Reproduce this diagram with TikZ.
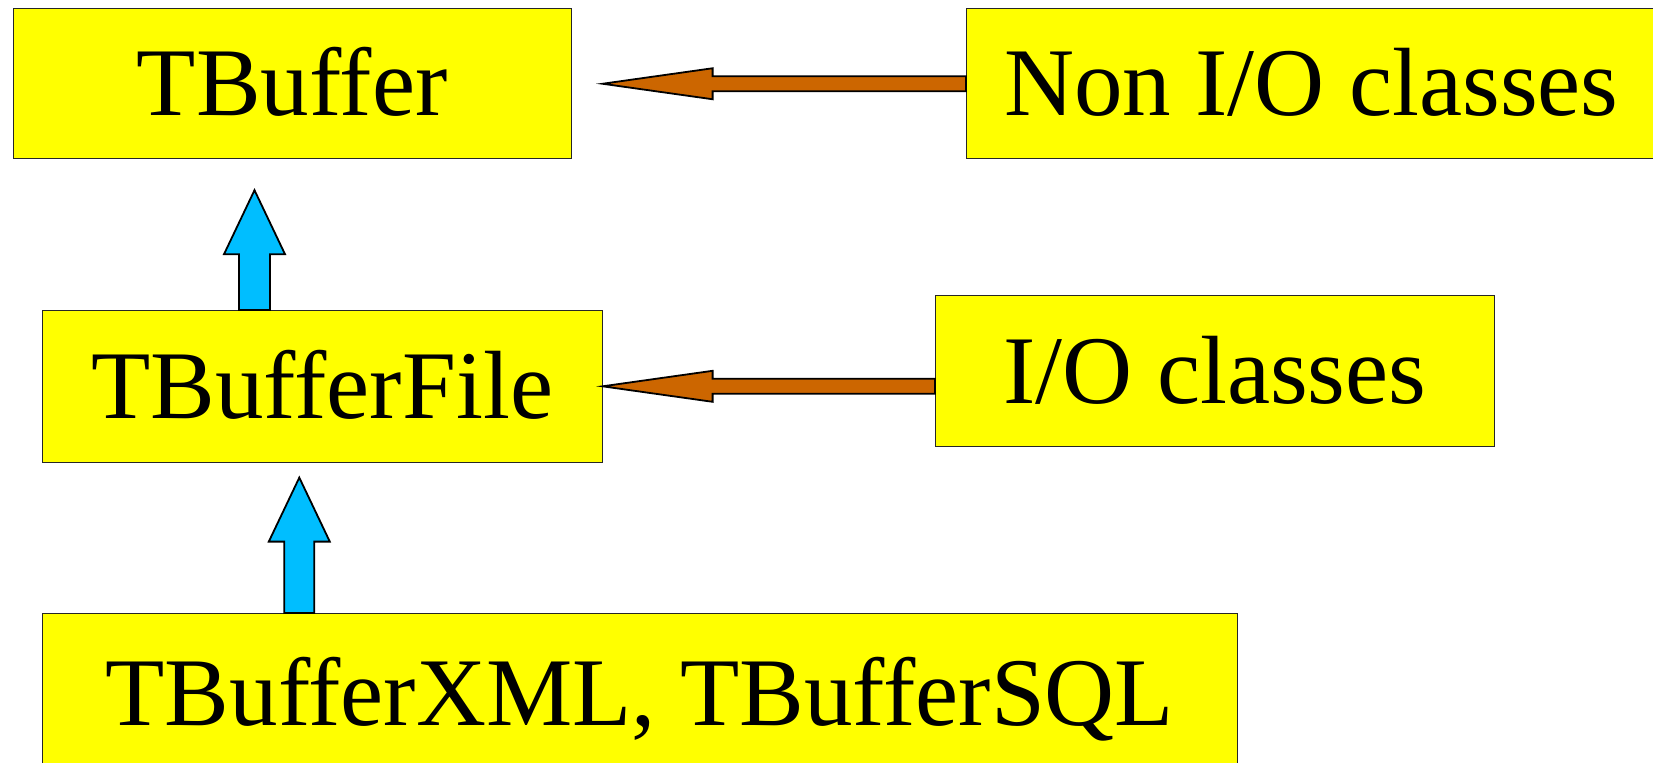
\documentclass[tikz,border=0pt]{standalone}
\usepackage{fontspec}
\setmainfont{Liberation Serif}
\usetikzlibrary{positioning,calc}

\definecolor{boxyellow}{RGB}{255,255,0}
\definecolor{useorange}{RGB}{204,102,0}
\definecolor{inhblue}{RGB}{0,190,255}

\tikzset{
  classbox/.style={draw=black!85, line width=0.45pt, fill=boxyellow, anchor=north west,
    inner sep=0pt, text height=32.1pt, text depth=0pt,
    font=\fontsize{48.5}{58}\selectfont},
  usearrow/.style={draw=black, line width=0.9pt, fill=useorange, line join=miter},
  inharrow/.style={draw=black, line width=0.9pt, fill=inhblue, line join=miter}
}

\begin{document}
\begin{tikzpicture}[x=0.5pt,y=-0.5pt]
\useasboundingbox (0,0) rectangle (1653,762);
\clip (0,0) rectangle (1653,762);

% class boxes
\node[classbox, minimum width=279.2pt, minimum height=75pt] (tbuffer) at (12.6,8.3) {TBuffer};
\node[classbox, minimum width=345pt, minimum height=75pt] (nonio) at (966,8.3) {Non I/O classes};
\node[classbox, minimum width=279.85pt, minimum height=75.85pt] (tbufferfile) at (42,310) {TBufferFile};
\node[classbox, minimum width=279.5pt, minimum height=75.5pt] (io) at (935,295) {I/O classes};
\node[classbox, minimum width=597.15pt, minimum height=80pt] (derived) at (42.3,613) {TBufferXML, TBufferSQL};

% Non I/O classes use TBuffer
\coordinate (tip1) at ($(tbuffer.east)+(30.7,0)$);
\draw[usearrow] (tip1) -- ++(110,-15.5) -- ++(0,8) -- ($(nonio.west)+(0,-7.5)$)
  -- ($(nonio.west)+(0,7.5)$) -- ($(tip1)+(110,7.5)$) -- ++(0,8) -- cycle;

% I/O classes use TBufferFile
\coordinate (tip2) at (tbufferfile.east);
\draw[usearrow] (tip2) -- ++(110,-15.5) -- ++(0,8) -- ($(io.west |- tip2)+(0,-7.5)$)
  -- ($(io.west |- tip2)+(0,7.5)$) -- ($(tip2)+(110,7.5)$) -- ++(0,8) -- cycle;

% TBufferFile inherits from TBuffer
\coordinate (base1) at ($(tbufferfile.north west)+(212.5,0)$);
\coordinate (tip3) at ($(base1 |- tbuffer.south)+(0,31)$);
\draw[inharrow] (tip3) -- ++(-30.5,64) -- ++(15,0) -- ($(base1)+(-15.5,0)$)
  -- ($(base1)+(15.5,0)$) -- ($(tip3)+(15.5,64)$) -- ++(15,0) -- cycle;

% TBufferXML, TBufferSQL inherit from TBufferFile
\coordinate (base2) at ($(derived.north west)+(257,0)$);
\coordinate (tip4) at ($(base2 |- tbufferfile.south)+(0,15)$);
\draw[inharrow] (tip4) -- ++(-30.5,64) -- ++(15.5,0) -- ($(base2)+(-15,0)$)
  -- ($(base2)+(15,0)$) -- ($(tip4)+(15,64)$) -- ++(15.5,0) -- cycle;

\end{tikzpicture}
\end{document}
